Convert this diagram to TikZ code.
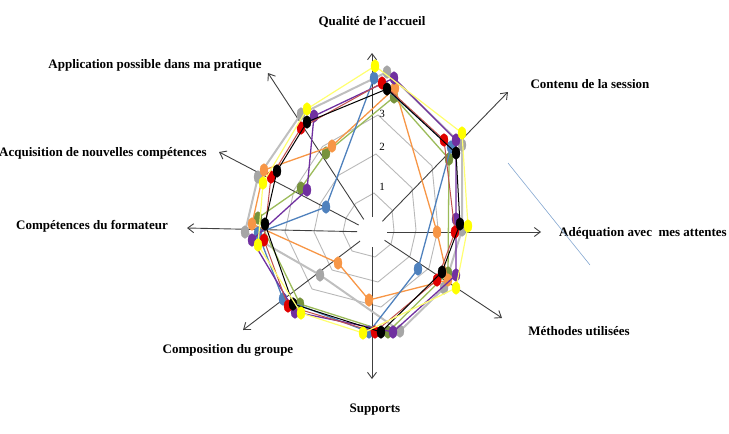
\documentclass[tikz,border=0pt]{standalone}
\usepackage{fontspec}
\setmainfont{Liberation Serif}
\usetikzlibrary{arrows.meta,positioning,calc}

\definecolor{jaune}{HTML}{FFFF00}
\definecolor{jauneclair}{HTML}{FFFF70}
\definecolor{gris}{HTML}{A6A6A6}
\definecolor{grisclair}{HTML}{BFBFBF}
\definecolor{violet}{HTML}{7030A0}
\definecolor{rouge}{HTML}{E00000}
\definecolor{rougeligne}{HTML}{C0504D}
\definecolor{bleu}{HTML}{4F81BD}
\definecolor{orangec}{HTML}{F79646}
\definecolor{vert}{HTML}{9BBB59}
\definecolor{vertfonce}{HTML}{77933C}

\tikzset{
  axe/.style    = {draw=black!75, line width=0.9pt, shorten <=15pt,
                   -{Straight Barb[length=6pt,width=9pt]}},
  grille/.style = {draw=black!28, line width=0.9pt},
  titre/.style  = {font=\bfseries\fontsize{13}{15}\selectfont, inner sep=0pt},
  niveau/.style = {font=\fontsize{11}{13}\selectfont, inner sep=0pt},
  serie/.style 2 args = {draw=#1, line width=1.3pt, line join=round,
                   mark=*, mark size=4pt,
                   mark options={yscale=1.6, draw=#2, fill=#2, line width=0.3pt}}
}

\begin{document}
\begin{tikzpicture}[x=1pt, y=-1pt]
\useasboundingbox (0,0) rectangle (729,434);

% centre of the chart and the point of value 1 on each spoke
\coordinate (O) at (372,232);
\foreach \k/\x/\y in {1/374/193, 2/392/210, 3/394/231, 4/391/244, 5/375/257,
                      6/352/251, 7/343/232, 8/346/218, 9/355.5/203.5}
  \coordinate (w\k) at (\x,\y);

% grid rings
\foreach \l in {1,2,3}
  \draw[grille] ($(O)!\l!(w1)$) \foreach \k in {2,...,9} { -- ($(O)!\l!(w\k)$) } -- cycle;

\foreach \l/\y in {1/187,2/147,3/114}
  \node[niveau] (niv\l) at (382,\y) {\l};

% axes, drawn by hand over the chart
\foreach \nom/\x/\y in {qa/372/53, cs/508/92, ad/541/232, mu/502/318, su/372/379,
                        cg/243/330, cf/187/228, an/219/152, ap/268/73}
  {
  \coordinate (\nom) at (\x,\y);
  \draw[axe] (O) -- (\nom);
  }

% axis titles
\node[titre] (lqa) at (372,22)  {Qualité de l’accueil};
\node[titre] (lcs) at (590,84)  {Contenu de la session};
\node[titre] (lad) at (643,233) {Adéquation avec\ \ mes attentes};
\node[titre] (lmu) at (579,331) {Méthodes utilisées};
\node[titre] (lsu) at (375,410) {Supports};
\node[titre] (lcg) at (228,350) {Composition du groupe};
\node[titre] (lcf) at (92,226)  {Compétences du formateur};
\node[titre, anchor=east] (lan) at (207,153) {Acquisition de nouvelles compétences};
\node[titre] (lap) at (155,65)  {Application possible dans ma pratique};

% stray line on the right
\coordinate (t1) at (508,163);
\coordinate (t2) at (590,265);
\draw[draw=bleu!70, line width=0.6pt] (t1) -- (t2);

% the series
\draw[serie={grisclair}{gris}, line width=2pt] plot coordinates {(387,72) (462,145) (462,230) (444,288) (400,331) (320,275) (245,232) (258,177) (301,114)} -- cycle;
\draw[serie={vert}{vertfonce}] plot coordinates {(394,97) (449,159) (448,273) (388,332) (300,304) (258,218) (301,188) (326,153)} -- cycle;
\draw[serie={orangec}{orangec}] plot coordinates {(395,88) (437,232) (448,280) (369,300) (338,263) (252,224) (264,170) (332,146)} -- cycle;
\draw[serie={bleu}{bleu}] plot coordinates {(374,78) (451,147) (418,269) (369,332) (283,299) (258,233) (326,207)} -- cycle;
\draw[serie={violet}{violet}] plot coordinates {(394,78) (456,140) (456,219) (456,275) (393,332) (295,312) (252,240) (307,190) (314,116)} -- cycle;
\draw[serie={rougeligne}{rouge}, line width=1pt] plot coordinates {(382,83) (444,140) (455,232) (437,280) (375,332) (288,306) (264,240) (271,177) (301,128)} -- cycle;
\draw[serie={black}{black}, line width=1pt] plot coordinates {(387,89) (456,153) (460,224) (442,272) (381,332) (293,304) (265,224) (277,171) (307,122)} -- cycle;
\draw[serie={jauneclair}{jaune}, line width=1.2pt] plot coordinates {(375,66) (462,133) (468,226) (456,288) (363,333) (301,313) (258,245) (263,183) (307,109)} -- cycle;
\end{tikzpicture}
\end{document}
